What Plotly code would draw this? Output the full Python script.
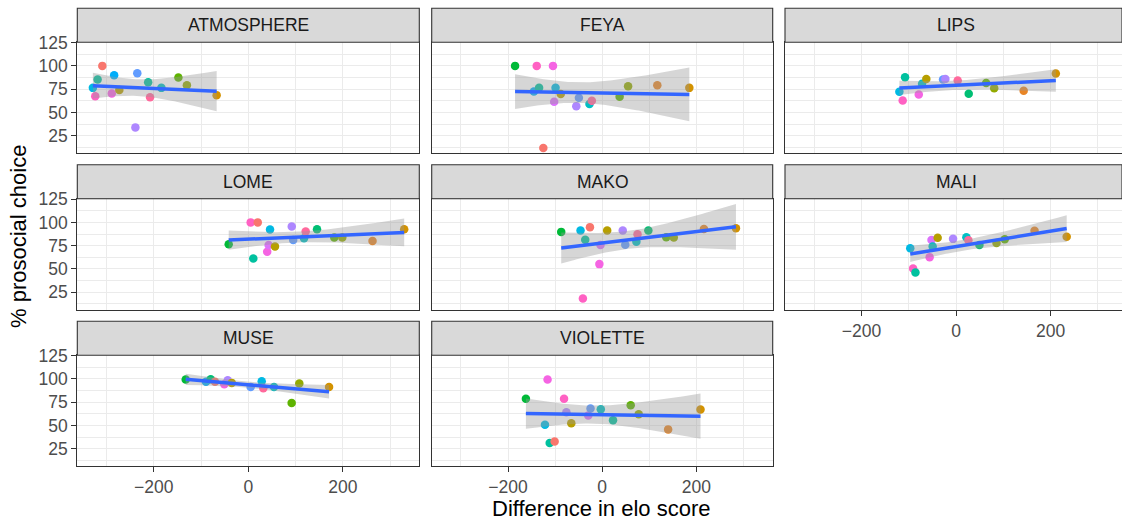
import numpy as np
import plotly.graph_objects as go

# Facet order (left-to-right, top-to-bottom)
panels = ["ATMOSPHERE", "FEYA", "LIPS", "LOME", "MAKO", "MALI", "MUSE", "VIOLETTE"]

# Difference in elo score (x), % prosocial choice (y), partner id (colour group)
atmosphere_x = [-329, -324, -319, -309, -289, -284, -273, -239, -235, -212, -208, -184, -148, -130, -67]
atmosphere_y = [76.4, 67.5, 85.4, 100, 70.4, 90, 74, 34, 92.2, 82.5, 66.4, 76.4, 87.5, 79.3, 68.6]
atmosphere_p = [10, 16, 8, 0, 15, 11, 3, 13, 12, 8, 17, 9, 5, 4, 2]

feya_x = [-185, -145, -139, -134, -125, -104.5, -102, -99, -88, -55, -49.5, -27, -22, 37, 55, 117, 185]
feya_y = [100, 72.5, 100, 76.4, 11.8, 100, 61.4, 76.4, 69.7, 56.8, 65.7, 59, 62.5, 67, 78.2, 79.3, 76.4]
feya_p = [6, 11, 16, 8, 0, 15, 14, 10, 3, 13, 12, 9, 17, 5, 4, 1, 2]

lips_x = [-120, -113, -108, -79, -72, -63, -27.6, -22.7, 3.4, 26.7, 63.6, 80.6, 143, 211]
lips_y = [72.2, 62.9, 87.9, 69.3, 80.7, 86, 85.4, 86, 84.3, 70, 81.5, 76.1, 73.2, 91.8]
lips_p = [10, 16, 8, 15, 9, 3, 12, 13, 17, 7, 5, 4, 1, 2]

lome_x = [-41.5, 5, 10.6, 20, 40, 43, 46, 56.5, 92, 95, 118, 121.5, 145.5, 182, 199, 263, 330]
lome_y = [76.6, 100, 61.3, 100, 68.4, 75.6, 92.4, 74.2, 95.6, 81, 83, 90.2, 92.7, 83.8, 83.8, 79.9, 92.7]
lome_p = [6, 16, 8, 0, 15, 14, 10, 3, 13, 12, 9, 17, 7, 5, 4, 1, 2]

mako_x = [-87, -46, -41, -36, -26, -6, -3.6, 10.6, 43.6, 49, 72.6, 75, 98, 136, 152, 216, 284]
mako_y = [89.8, 91.3, 18.4, 81.3, 94.9, 55.2, 75.6, 91.3, 91.3, 75.9, 79.1, 87.3, 91.3, 84.1, 83.8, 93, 93.8]
mako_p = [6, 10, 16, 8, 0, 15, 14, 3, 13, 12, 9, 17, 7, 5, 4, 1, 2]

mali_x = [-97, -91, -86, -56, -52, -49.6, -39, -6.4, 21.8, 26, 49.4, 85.5, 103, 166, 234]
mali_y = [72.3, 50.6, 46.3, 62.7, 81.2, 74.2, 83.4, 82.3, 84.1, 80.9, 75.6, 78, 82, 90.9, 84.5]
mali_p = [10, 16, 8, 15, 14, 9, 3, 13, 9, 17, 7, 4, 5, 1, 2]

muse_x = [-132.5, -89.5, -79.6, -70.5, -50.8, -43.6, -35, 5, 28.4, 31.8, 54.4, 91.8, 108, 171]
muse_y = [99.4, 96.8, 99.7, 96.8, 94.3, 98.6, 95.7, 91.4, 97.5, 90, 91.4, 74, 95, 91.4]
muse_p = [6, 11, 7, 0, 15, 13, 3, 12, 10, 17, 9, 5, 4, 2]

violette_x = [-162, -121.5, -116, -111.5, -101, -81, -76, -65.6, -29.6, -24.8, -3, 23, 60.5, 77.5, 140, 208.7]
violette_y = [78.6, 50.7, 99.4, 31.1, 32.9, 78.6, 64.3, 52.5, 60.8, 68.3, 67.5, 55.7, 71.8, 62.1, 45.8, 67.1]
violette_p = [6, 10, 15, 8, 0, 16, 13, 3, 14, 12, 9, 8, 5, 4, 1, 2]

xs = [atmosphere_x, feya_x, lips_x, lome_x, mako_x, mali_x, muse_x, violette_x]
ys = [atmosphere_y, feya_y, lips_y, lome_y, mako_y, mali_y, muse_y, violette_y]
ps = [atmosphere_p, feya_p, lips_p, lome_p, mako_p, mali_p, muse_p, violette_p]

x_ticks = [-200, 0, 200]
y_ticks = [25, 50, 75, 100, 125]

# ggplot-like hue palette for partners
palette = ["#F8766D", "#E88526", "#D39200", "#B79F00", "#93AA00", "#5EB300",
           "#00BA38", "#00BF74", "#00C19F", "#00BFC4", "#00B9E3", "#00ADFA",
           "#619CFF", "#AE87FF", "#DB72FB", "#F564E3", "#FF61C3", "#FF699C"]

# two-sided 95% t quantiles
T975 = {10: 2.228, 11: 2.201, 12: 2.179, 13: 2.160, 14: 2.145, 15: 2.131,
        16: 2.120, 17: 2.110, 18: 2.101}


def lm_band(x, y, n=80):
    x = np.asarray(x, float)
    y = np.asarray(y, float)
    b, a = np.polyfit(x, y, 1)
    resid = y - (a + b * x)
    df = len(x) - 2
    s = np.sqrt(np.sum(resid ** 2) / df)
    xm = x.mean()
    sxx = np.sum((x - xm) ** 2)
    grid = np.linspace(x.min(), x.max(), n)
    fit = a + b * grid
    se = s * np.sqrt(1 / len(x) + (grid - xm) ** 2 / sxx)
    t = T975.get(df, 2.1)
    return grid, fit, fit - t * se, fit + t * se


W, H = 1122, 525
FONT = "Liberation Sans, Arial, sans-serif"

# panel geometry in pixels
col_left = [77.3, 431.7, 785.0]
col_right = [419.3, 772.7, 1122.0]
row_top = [42.3, 198.8, 355.3]
row_bot = [153.0, 309.5, 466.0]
strip_h = 34.0
x_range_full = [-362, 362]
x_range_crop = [-362, 351]
y_range = [6.5, 125.3]

fig = go.Figure()
shapes = []
annotations = []

for i, name in enumerate(panels):
    r, c = divmod(i, 3)
    ax = "" if i == 0 else str(i + 1)
    xref, yref = "x" + ax, "y" + ax

    fig.add_trace(go.Scatter(
        x=xs[i], y=ys[i], mode="markers", xaxis=xref, yaxis=yref,
        marker=dict(size=8.5, color=[palette[p] for p in ps[i]], line=dict(width=0)),
        showlegend=False, hoverinfo="x+y"))

    gx, fit, lo, hi = lm_band(xs[i], ys[i])
    fig.add_trace(go.Scatter(
        x=np.concatenate([gx, gx[::-1]]), y=np.concatenate([hi, lo[::-1]]),
        mode="lines", fill="toself", fillcolor="rgba(153,153,153,0.4)",
        line=dict(width=0), xaxis=xref, yaxis=yref, showlegend=False, hoverinfo="skip"))
    fig.add_trace(go.Scatter(
        x=gx, y=fit, mode="lines", line=dict(color="#3366FF", width=3.5),
        xaxis=xref, yaxis=yref, showlegend=False, hoverinfo="skip"))

    show_x = i in (5, 6, 7)
    show_y = c == 0
    xd = [col_left[c] / W, col_right[c] / W]
    yd = [1 - row_bot[r] / H, 1 - row_top[r] / H]

    fig.layout["xaxis" + ax] = dict(
        domain=xd, anchor=yref, range=x_range_crop if c == 2 else x_range_full,
        tickvals=x_ticks, showticklabels=show_x, ticks="outside" if show_x else "",
        ticklen=5, tickwidth=1.1, tickcolor="#333333",
        tickfont=dict(size=17.5, color="#4D4D4D", family=FONT),
        showgrid=True, gridcolor="#EBEBEB", gridwidth=1.3,
        minor=dict(tickvals=[-300, -100, 100, 300], showgrid=True,
                   gridcolor="#EBEBEB", gridwidth=0.7),
        showline=True, mirror=True, linecolor="#333333", linewidth=1.1,
        zeroline=False, fixedrange=True, automargin=False)
    fig.layout["yaxis" + ax] = dict(
        domain=yd, anchor=xref, range=y_range,
        tickvals=y_ticks, showticklabels=show_y, ticks="outside" if show_y else "",
        ticklen=5, tickwidth=1.1, tickcolor="#333333",
        tickfont=dict(size=17.5, color="#4D4D4D", family=FONT),
        showgrid=True, gridcolor="#EBEBEB", gridwidth=1.3,
        minor=dict(tickvals=[12.5, 37.5, 62.5, 87.5, 112.5], showgrid=True,
                   gridcolor="#EBEBEB", gridwidth=0.7),
        showline=True, mirror=True, linecolor="#333333", linewidth=1.1,
        zeroline=False, fixedrange=True, automargin=False)

    # facet strip
    st, sb = row_top[r] - strip_h, row_top[r]
    shapes.append(dict(type="rect", xref="paper", yref="paper",
                       x0=xd[0], x1=xd[1], y0=1 - sb / H, y1=1 - st / H,
                       fillcolor="#D9D9D9", line=dict(color="#333333", width=1.1),
                       layer="above"))
    annotations.append(dict(text=name, xref="paper", yref="paper",
                            x=(col_left[c] + (col_left[c] + 342)) / 2 / W,
                            y=1 - (st + sb) / 2 / H, showarrow=False,
                            xanchor="center", yanchor="middle",
                            font=dict(size=17.5, color="#1A1A1A", family=FONT)))

annotations.append(dict(text="Difference in elo score", xref="paper", yref="paper",
                        x=601 / W, y=1 - 508 / H, showarrow=False,
                        xanchor="center", yanchor="middle",
                        font=dict(size=22, color="#000000", family=FONT)))
annotations.append(dict(text="% prosocial choice", xref="paper", yref="paper",
                        x=19 / W, y=1 - 237 / H, showarrow=False, textangle=-90,
                        xanchor="center", yanchor="middle",
                        font=dict(size=22, color="#000000", family=FONT)))

fig.update_layout(
    width=W, height=H, margin=dict(l=0, r=0, t=0, b=0, autoexpand=False),
    paper_bgcolor="white", plot_bgcolor="white",
    shapes=shapes, annotations=annotations, showlegend=False,
    font=dict(family=FONT))

fig.write_html("out.html", config={"displayModeBar": False})
